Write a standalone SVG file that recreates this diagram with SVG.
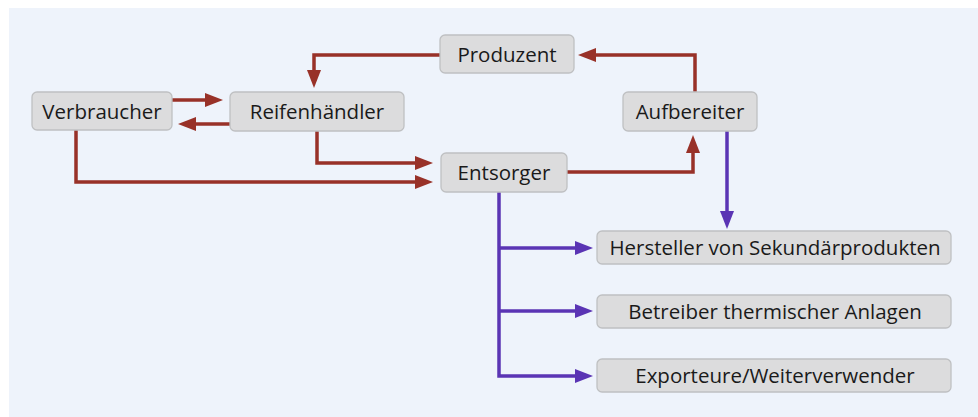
<svg xmlns="http://www.w3.org/2000/svg" width="978" height="417" viewBox="0 0 978 417">
<defs>
<style>
.box{fill:#dcdcdd;stroke:#bfc0c2;stroke-width:1.3}
.lbl{font-family:"Open Sans","Noto Sans",sans-serif;font-size:20.5px;fill:#1a1a1a;text-anchor:middle}
.red{fill:none;stroke:#983128;stroke-width:3.5}
.pur{fill:none;stroke:#5a34b4;stroke-width:3.5}
</style>
<marker id="ar" markerUnits="userSpaceOnUse" markerWidth="20" markerHeight="16" viewBox="0 -8 20 16" refX="1" refY="0" orient="auto"><path d="M0,-7 L18,0 L0,7 z" fill="#983128"/></marker>
<marker id="ap" markerUnits="userSpaceOnUse" markerWidth="20" markerHeight="16" viewBox="0 -8 20 16" refX="1" refY="0" orient="auto"><path d="M0,-7 L18,0 L0,7 z" fill="#5a34b4"/></marker>
</defs>
<rect x="0" y="0" width="978" height="417" fill="#ffffff"/>
<rect x="9" y="8" width="969" height="409" fill="#eef3fb"/>
<g id="connectors">
<path class="red" d="M440,55 H314 V71" marker-end="url(#ar)"/>
<path class="red" d="M695,92 V55 H595" marker-end="url(#ar)"/>
<path class="red" d="M567,172 H693 V152" marker-end="url(#ar)"/>
<path class="red" d="M172,100 H206" marker-end="url(#ar)"/>
<path class="red" d="M230,124 H195" marker-end="url(#ar)"/>
<path class="red" d="M317,131 V163 H416" marker-end="url(#ar)"/>
<path class="red" d="M76,130 V182 H416" marker-end="url(#ar)"/>
<path class="pur" d="M727,131 V212" marker-end="url(#ap)"/>
<path class="pur" d="M499,192 V376 H576" marker-end="url(#ap)"/>
<path class="pur" d="M499,248 H576" marker-end="url(#ap)"/>
<path class="pur" d="M499,311 H576" marker-end="url(#ap)"/>
</g>
<g id="produzent"><rect class="box" x="440" y="35" width="134" height="38" rx="5"/><text class="lbl" x="507" y="61.5">Produzent</text></g>
<g id="verbraucher"><rect class="box" x="32" y="92" width="140" height="38" rx="5"/><text class="lbl" x="102" y="118.5">Verbraucher</text></g>
<g id="reifenhaendler"><rect class="box" x="230" y="92" width="174" height="39" rx="5"/><text class="lbl" x="317" y="119">Reifenhändler</text></g>
<g id="aufbereiter"><rect class="box" x="623" y="92" width="134" height="39" rx="5"/><text class="lbl" x="690" y="119">Aufbereiter</text></g>
<g id="entsorger"><rect class="box" x="441" y="153" width="126" height="39" rx="5"/><text class="lbl" x="504" y="180">Entsorger</text></g>
<g id="hersteller"><rect class="box" x="597" y="231" width="354" height="33" rx="5"/><text class="lbl" x="775" y="255">Hersteller von Sekundärprodukten</text></g>
<g id="betreiber"><rect class="box" x="597" y="295" width="354" height="33" rx="5"/><text class="lbl" x="775" y="319">Betreiber thermischer Anlagen</text></g>
<g id="exporteure"><rect class="box" x="597" y="359" width="354" height="33" rx="5"/><text class="lbl" x="775" y="383">Exporteure/Weiterverwender</text></g>
</svg>
